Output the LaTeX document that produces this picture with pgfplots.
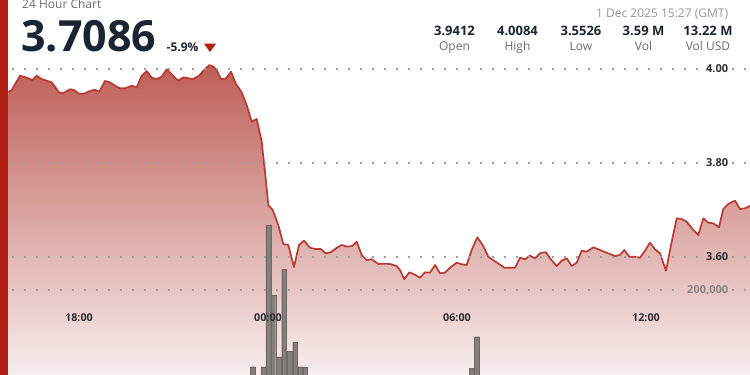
\documentclass[border=0pt]{standalone}
\usepackage{fontspec}
\setmainfont{Open Sans}
\usepackage{pgfplots}
\pgfplotsset{compat=1.18}
\usepackage{pgfplotstable}
\definecolor{lineRed}{RGB}{183,58,51}
\definecolor{fillTop}{RGB}{190,95,88}
\definecolor{fillBot}{RGB}{248,238,238}
\definecolor{barRed}{RGB}{176,30,20}
\definecolor{navy}{RGB}{27,36,49}
\definecolor{gridGray}{RGB}{158,158,158}
\definecolor{volGray}{RGB}{133,127,123}
\definecolor{volEdge}{RGB}{110,104,100}
\definecolor{labGray}{RGB}{107,107,107}
\definecolor{dateGray}{RGB}{150,150,150}
\definecolor{volLab}{RGB}{140,130,130}
\definecolor{tickDark}{RGB}{45,45,50}
\definecolor{bgPinkA}{RGB}{226,184,181}
\definecolor{bgPinkB}{RGB}{232,199,197}

\pgfplotstableread{
h p
-8.244 3.9504
-8.137 3.9553
-7.873 3.9857
-7.660 3.9815
-7.483 3.9766
-7.343 3.9857
-7.184 3.9787
-7.025 3.9751
-6.867 3.9717
-6.762 3.9623
-6.625 3.9496
-6.476 3.9496
-6.286 3.9568
-6.159 3.9553
-5.968 3.9462
-5.810 3.9483
-5.651 3.9532
-5.492 3.9560
-5.356 3.9517
-5.175 3.9745
-5.016 3.9717
-4.857 3.9645
-4.698 3.9589
-4.540 3.9589
-4.327 3.9645
-4.168 3.9611
-4.010 3.9857
-3.851 3.9957
-3.692 3.9815
-3.533 3.9787
-3.375 3.9836
-3.216 3.9993
-3.057 3.9887
-2.848 3.9751
-2.689 3.9823
-2.530 3.9802
-2.371 3.9787
-2.190 3.9857
-2.032 3.9979
-1.863 4.0084
-1.737 4.0049
-1.629 3.9979
-1.492 3.9787
-1.333 3.9798
-1.175 3.9943
-1.016 3.9681
-0.835 3.9504
-0.676 3.9234
-0.517 3.8879
-0.359 3.8936
-0.200 3.8453
-0.095 3.7815
0.010 3.7106
0.149 3.7000
0.327 3.6681
0.486 3.6277
0.644 3.6255
0.825 3.5787
0.984 3.6255
1.143 3.6347
1.333 3.6198
1.492 3.6170
1.673 3.6170
1.832 3.6079
1.990 3.6100
2.159 3.6185
2.340 3.6255
2.517 3.6219
2.676 3.6234
2.816 3.6326
2.975 3.6043
3.133 3.5936
3.292 3.5951
3.502 3.5851
3.660 3.5857
3.873 3.5851
4.086 3.5808
4.190 3.5723
4.327 3.5526
4.486 3.5674
4.635 3.5632
4.825 3.5560
4.984 3.5674
5.143 3.5666
5.302 3.5830
5.460 3.5653
5.619 3.5666
5.778 3.5772
5.990 3.5879
6.149 3.5845
6.308 3.5830
6.467 3.6149
6.644 3.6419
6.816 3.6255
6.994 3.6006
7.175 3.5921
7.343 3.5845
7.502 3.5772
7.683 3.5772
7.841 3.5772
8.000 3.5985
8.159 3.5951
8.317 3.6028
8.476 3.5972
8.651 3.6085
8.825 3.6102
8.952 3.5972
9.165 3.5808
9.324 3.5921
9.483 3.5972
9.641 3.5808
9.800 3.5879
9.959 3.6134
10.117 3.6113
10.327 3.6206
10.540 3.6149
10.752 3.6091
11.016 3.6021
11.175 3.6043
11.311 3.6149
11.470 3.6006
11.651 3.6006
11.810 3.5985
11.968 3.6134
12.127 3.6304
12.286 3.6164
12.444 3.6079
12.635 3.5708
12.816 3.6325
12.975 3.6823
13.133 3.6808
13.292 3.6751
13.483 3.6589
13.660 3.6468
13.819 3.6823
13.978 3.6730
14.137 3.6717
14.317 3.6632
14.454 3.7021
14.613 3.7128
14.825 3.7198
14.984 3.7021
15.143 3.7036
15.302 3.7086
}\pricedata

\pgfplotstableread{
h v
-0.476 19500
-0.149 19500
0.010 353000
0.168 188000
0.343 43000
0.514 249000
0.698 55000
0.863 78000
1.022 19500
1.181 19000
6.467 16000
6.629 90000
}\voldata

\pgfplotsset{dotgrid/.style={
  ymajorgrids=true,
  grid style={draw=gridGray, line width=1.5pt, dash pattern=on 1.5pt off 10.5pt},
  tick style={draw=none},
}}

\begin{document}
\begin{tikzpicture}[x=1pt,y=1pt]
\useasboundingbox (0,0) rectangle (750,375);
\clip (0,0) rectangle (750,375);

% price axis
\begin{axis}[
  at={(0,0)}, anchor=south west,
  scale only axis, width=750pt, height=375pt,
  xmin=-8.508, xmax=15.302,
  ymin=3.3489, ymax=4.1468,
  axis line style={draw=none},
  axis on top,
  xtick=\empty,
  ytick={3.8,4.0},
  yticklabels={3.80,4.00},
  yticklabel pos=right,
  yticklabel style={anchor=east, xshift=-17.7pt, inner xsep=4pt, inner ysep=1.5pt,
     fill=white, text=tickDark, font=\bfseries\fontsize{11}{11}\selectfont},
  extra y ticks={3.6},
  extra y tick labels={3.60},
  extra y tick style={yticklabel style={fill=bgPinkA}},
  dotgrid,
]
\addplot[draw=none, top color=fillTop, bottom color=fillBot]
  table[x=h,y=p]{\pricedata} -- (rel axis cs:1,0) -- (rel axis cs:0,0) -- cycle;
\addplot[lineRed, line width=1.7pt, line join=round, no markers]
  table[x=h,y=p]{\pricedata};
\end{axis}

% volume axis
\begin{axis}[
  at={(0,0)}, anchor=south west,
  scale only axis, width=750pt, height=375pt,
  xmin=-8.508, xmax=15.302,
  ymin=0, ymax=882353,
  axis line style={draw=none},
  axis on top,
  xtick={-6,0,6,12},
  xticklabels={18:00,00:00,06:00,12:00},
  xticklabel style={anchor=center, yshift=57pt, inner sep=0pt, text=tickDark,
     font=\bfseries\fontsize{10.8}{11}\selectfont},
  ytick={200000},
  yticklabels={200{,}000},
  yticklabel pos=right,
  yticklabel style={anchor=east, xshift=-17.7pt, inner xsep=4pt, inner ysep=1.5pt,
     fill=bgPinkB, text=volLab, font=\bfseries\fontsize{11}{11}\selectfont},
  scaled y ticks=false,
  dotgrid,
]
\addplot[ybar, bar width=0.155, fill=volGray, draw=volEdge, line width=0.4pt]
  table[x=h,y=v]{\voldata};
\end{axis}

% left red bar
\fill[barRed] (0,0) rectangle (8,375);

% header
\node[anchor=base west, inner sep=0pt, text=labGray, font=\fontsize{12}{12}\selectfont] at (22,366.5) {24 Hour Chart};
\node[anchor=base west, inner sep=0pt, text=navy, font=\bfseries\fontsize{43}{43}\selectfont] at (21,323.3) {3.7086};
\node[anchor=base west, inner sep=0pt, text=navy, font=\bfseries\fontsize{12}{12}\selectfont] at (166.5,323.3) {-5.9\%};
\fill[barRed] (204,331.3) -- (216,331.3) -- (210,323) -- cycle;

\node[anchor=base east, inner sep=0pt, text=dateGray, font=\fontsize{12}{12}\selectfont] at (728.3,357.7) {1 Dec 2025 15:27 (GMT)};

\foreach \cx/\val/\lab in {454.5/3.9412/Open, 517.5/4.0084/High, 581/3.5526/Low, 643.5/3.59 M/Vol, 708/13.22 M/Vol USD}{
  \node[anchor=base, inner sep=0pt, text=navy, font=\bfseries\fontsize{13}{13}\selectfont] at (\cx,339) {\val};
  \node[anchor=base, inner sep=0pt, text=labGray, font=\fontsize{12}{12}\selectfont] at (\cx,324.7) {\lab};
}
\end{tikzpicture}
\end{document}
